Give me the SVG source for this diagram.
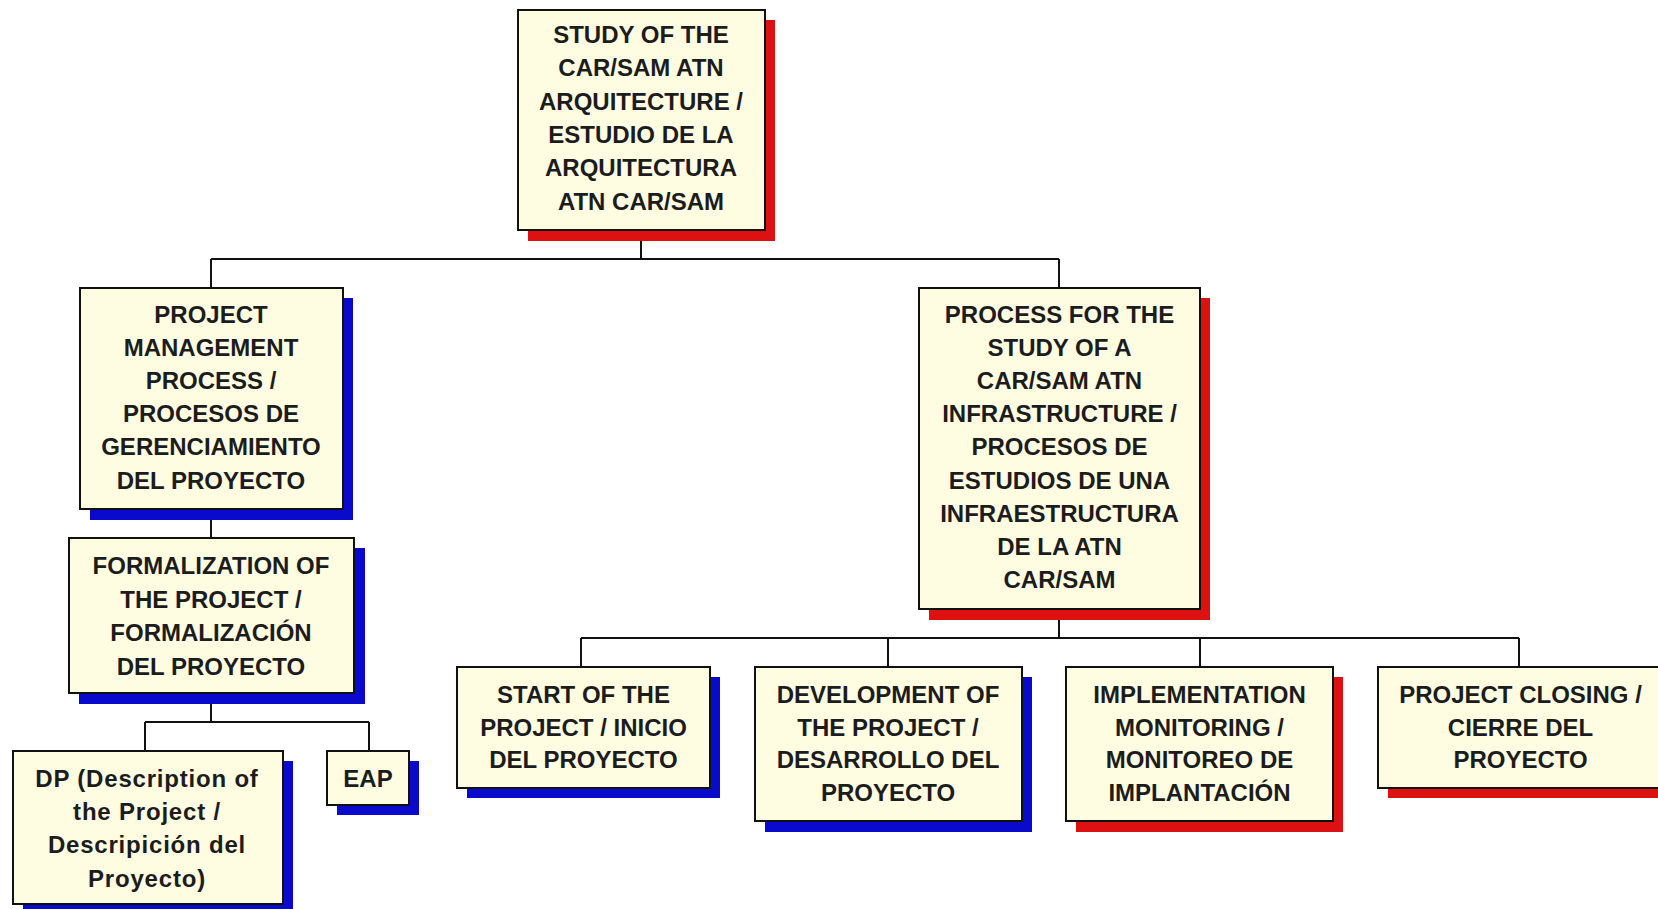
<svg xmlns="http://www.w3.org/2000/svg" width="1658" height="909" viewBox="0 0 1658 909">
<style>
.box{fill:#FFFDE1;stroke:#111;stroke-width:2}
.sr{fill:#DD1111}
.sb{fill:#0A0ACC}
.t{font-family:"Liberation Sans",Arial,sans-serif;font-weight:bold;font-size:24px;fill:#1c1c1c;text-anchor:middle}
.lc{letter-spacing:0.8px}
.c{fill:none;stroke:#111;stroke-width:2}
</style>
<rect width="1658" height="909" fill="#ffffff"/>
<g id="connectors">
<path class="c" d="M641 230V259M211 259H1059M211 259V288M1059 259V288"/>
<path class="c" d="M211 509V538M211 693V722M145 722H369M145 722V751M369 722V751"/>
<path class="c" d="M1059 609V638M581 638H1519M581 638V667M888 638V667M1200 638V667M1519 638V667"/>
</g>
<g id="n-top">
<rect class="sr" x="528" y="20" width="247" height="221"/>
<rect class="box" x="518" y="10" width="247" height="220"/>
<text class="t"><tspan x="641" y="43">STUDY OF THE</tspan><tspan x="641" y="76.3">CAR/SAM ATN</tspan><tspan x="641" y="109.6">ARQUITECTURE /</tspan><tspan x="641" y="142.9">ESTUDIO DE LA</tspan><tspan x="641" y="176.2">ARQUITECTURA</tspan><tspan x="641" y="209.5">ATN CAR/SAM</tspan></text>
</g>
<g id="n-pm">
<rect class="sb" x="90" y="298" width="263" height="222"/>
<rect class="box" x="80" y="288" width="263" height="221"/>
<text class="t"><tspan x="211" y="322.5">PROJECT</tspan><tspan x="211" y="355.7">MANAGEMENT</tspan><tspan x="211" y="388.9">PROCESS /</tspan><tspan x="211" y="422.1">PROCESOS DE</tspan><tspan x="211" y="455.3">GERENCIAMIENTO</tspan><tspan x="211" y="488.5">DEL PROYECTO</tspan></text>
</g>
<g id="n-form">
<rect class="sb" x="79" y="548" width="286" height="156"/>
<rect class="box" x="69" y="538" width="285" height="155"/>
<text class="t"><tspan x="211" y="574">FORMALIZATION OF</tspan><tspan x="211" y="607.5">THE PROJECT /</tspan><tspan x="211" y="641">FORMALIZACIÓN</tspan><tspan x="211" y="674.5">DEL PROYECTO</tspan></text>
</g>
<g id="n-dp">
<rect class="sb" x="23" y="761" width="270" height="154"/>
<rect class="box" x="13" y="751" width="270" height="153"/>
<text class="t lc"><tspan x="147" y="786.7">DP (Description of</tspan><tspan x="147" y="820">the Project /</tspan><tspan x="147" y="853.3">Descripición del</tspan><tspan x="147" y="886.5">Proyecto)</tspan></text>
</g>
<g id="n-eap">
<rect class="sb" x="337" y="761" width="82" height="54"/>
<rect class="box" x="327" y="751" width="82" height="54"/>
<text class="t"><tspan x="368" y="786.7">EAP</tspan></text>
</g>
<g id="n-proc">
<rect class="sr" x="929" y="298" width="281" height="322"/>
<rect class="box" x="919" y="288" width="281" height="321"/>
<text class="t"><tspan x="1059.5" y="322.5">PROCESS FOR THE</tspan><tspan x="1059.5" y="355.7">STUDY OF A</tspan><tspan x="1059.5" y="388.9">CAR/SAM ATN</tspan><tspan x="1059.5" y="422.1">INFRASTRUCTURE /</tspan><tspan x="1059.5" y="455.3">PROCESOS DE</tspan><tspan x="1059.5" y="488.5">ESTUDIOS DE UNA</tspan><tspan x="1059.5" y="521.7">INFRAESTRUCTURA</tspan><tspan x="1059.5" y="554.9">DE LA ATN</tspan><tspan x="1059.5" y="588.1">CAR/SAM</tspan></text>
</g>
<g id="n-start">
<rect class="sb" x="467" y="677" width="253" height="121"/>
<rect class="box" x="457" y="667" width="253" height="121"/>
<text class="t"><tspan x="583.5" y="703">START OF THE</tspan><tspan x="583.5" y="735.5">PROJECT / INICIO</tspan><tspan x="583.5" y="768">DEL PROYECTO</tspan></text>
</g>
<g id="n-dev">
<rect class="sb" x="765" y="677" width="267" height="155"/>
<rect class="box" x="755" y="667" width="267" height="154"/>
<text class="t"><tspan x="888" y="703">DEVELOPMENT OF</tspan><tspan x="888" y="735.5">THE PROJECT /</tspan><tspan x="888" y="768">DESARROLLO DEL</tspan><tspan x="888" y="800.5">PROYECTO</tspan></text>
</g>
<g id="n-impl">
<rect class="sr" x="1076" y="677" width="267" height="155"/>
<rect class="box" x="1066" y="667" width="267" height="154"/>
<text class="t"><tspan x="1199.5" y="703">IMPLEMENTATION</tspan><tspan x="1199.5" y="735.5">MONITORING /</tspan><tspan x="1199.5" y="768">MONITOREO DE</tspan><tspan x="1199.5" y="800.5">IMPLANTACIÓN</tspan></text>
</g>
<g id="n-close">
<rect class="sr" x="1388" y="677" width="290" height="121"/>
<rect class="box" x="1378" y="667" width="285" height="121"/>
<text class="t"><tspan x="1520.5" y="703">PROJECT CLOSING /</tspan><tspan x="1520.5" y="735.5">CIERRE DEL</tspan><tspan x="1520.5" y="768">PROYECTO</tspan></text>
</g>
</svg>
